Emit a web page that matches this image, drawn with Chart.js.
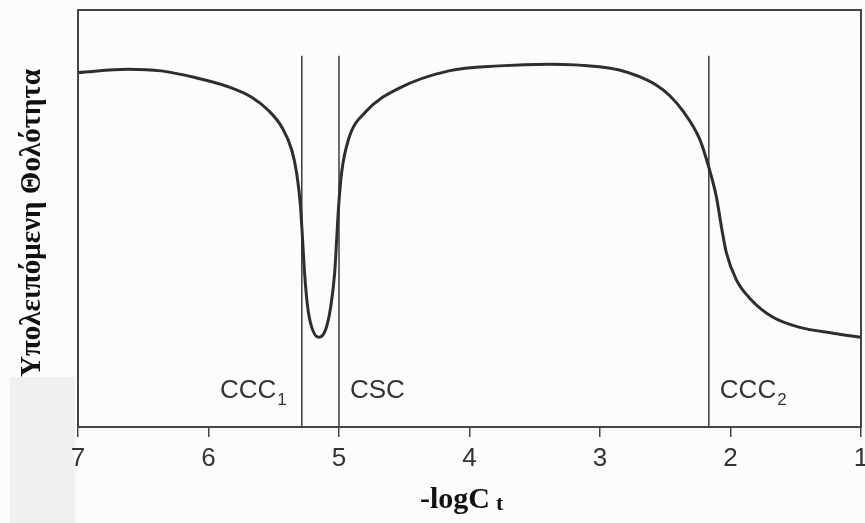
<!DOCTYPE html>
<html>
<head>
<meta charset="utf-8">
<script src="https://cdn.jsdelivr.net/npm/chart.js@4"></script>
<style>
html,body{margin:0;padding:0;background:#fcfcfc;}
#wrap{width:865px;height:523px;position:relative;}
</style>
</head>
<body>
<div id="wrap"><canvas id="c" width="865" height="523"></canvas></div>
<script>
// -logCt values (x) and residual turbidity (y, % of axis height)
const logC = [7.000, 6.616, 6.362, 6.103, 5.848, 5.669, 5.540, 5.438, 5.361, 5.323, 5.295, 5.279, 5.264, 5.241, 5.210, 5.156, 5.102, 5.064, 5.033, 5.018, 5.003, 4.980, 4.926, 4.795, 4.542, 4.158, 3.773, 3.389, 3.005, 2.852, 2.698, 2.570, 2.467, 2.365, 2.237, 2.173, 2.109, 2.070, 2.032, 1.955, 1.853, 1.674, 1.469, 1.213, 1.000];
const turbidity = [85.0, 85.8, 85.4, 83.8, 81.6, 79.1, 75.9, 71.9, 66.3, 60.6, 52.9, 44.9, 37.0, 29.0, 24.0, 21.5, 23.4, 28.7, 37.0, 44.9, 52.9, 61.0, 69.1, 75.6, 81.2, 85.4, 86.6, 87.0, 86.4, 85.6, 84.0, 82.0, 79.5, 75.8, 69.1, 63.0, 55.3, 48.1, 41.8, 35.3, 30.9, 26.3, 23.9, 22.5, 21.5];
// Critical concentrations (vertical markers)
const markerNames = ["CCC", "CSC", "CCC"];
const markerSubs = ["1", "", "2"];
const markerX = [5.285, 5.0, 2.166];
const markerTop = 89;
const xTicks = [7, 6, 5, 4, 3, 2, 1];
const yTitle = "Υπολειπόμενη Θολότητα";
const xTitle = "-logC";
const xTitleSub = "t";

const curve = logC.map((x, i) => ({x: x, y: turbidity[i]}));
const markerSets = markerX.map(x => ({
  data: [{x: x, y: 0}, {x: x, y: markerTop}],
  borderColor: '#3a3a3a', borderWidth: 1.5, pointRadius: 0, tension: 0
}));

const decor = {
  id: 'decor',
  beforeDraw(chart) {
    const ctx = chart.ctx;
    ctx.save();
    ctx.fillStyle = '#fcfcfc';
    ctx.fillRect(0, 0, chart.width, chart.height);
    ctx.fillStyle = '#f0f0f0';
    ctx.fillRect(10, 377, 65, 146);
    ctx.restore();
  },
  afterDraw(chart) {
    const ctx = chart.ctx;
    const a = chart.chartArea;
    const xs = chart.scales.x, ys = chart.scales.y;
    ctx.save();
    ctx.strokeStyle = '#444';
    ctx.lineWidth = 2;
    ctx.strokeRect(a.left, a.top, a.right - a.left, a.bottom - a.top);
    // marker labels
    ctx.fillStyle = '#333';
    ctx.textBaseline = 'alphabetic';
    const baseY = ys.getPixelForValue(7);
    markerX.forEach((v, i) => {
      const px = xs.getPixelForValue(v);
      ctx.font = '26px "Liberation Sans", Arial, sans-serif';
      const mainW = ctx.measureText(markerNames[i]).width;
      ctx.font = '17px "Liberation Sans", Arial, sans-serif';
      const subW = markerSubs[i] ? ctx.measureText(markerSubs[i]).width + 1 : 0;
      let startX = (i === 0) ? px - 15 - mainW - subW : px + 11;
      ctx.font = '26px "Liberation Sans", Arial, sans-serif';
      ctx.textAlign = 'left';
      ctx.fillText(markerNames[i], startX, baseY);
      if (markerSubs[i]) {
        ctx.font = '17px "Liberation Sans", Arial, sans-serif';
        ctx.fillText(markerSubs[i], startX + mainW + 1, baseY + 7);
      }
    });
    // y title
    ctx.fillStyle = '#111';
    ctx.font = 'bold 29px "Liberation Serif", "Times New Roman", serif';
    ctx.textAlign = 'center';
    ctx.translate(40, 223);
    ctx.rotate(-Math.PI / 2);
    ctx.fillText(yTitle, 0, 0);
    ctx.restore();
    // x title
    ctx.save();
    ctx.fillStyle = '#111';
    ctx.textBaseline = 'alphabetic';
    ctx.font = 'bold 30px "Liberation Serif", "Times New Roman", serif';
    const w1 = ctx.measureText(xTitle).width;
    const sx = 420;
    ctx.textAlign = 'left';
    ctx.fillText(xTitle, sx, 508);
    ctx.font = 'bold 22px "Liberation Serif", "Times New Roman", serif';
    ctx.fillText(xTitleSub, sx + w1 + 6, 510);
    ctx.restore();
  }
};

new Chart(document.getElementById('c'), {
  type: 'line',
  data: {
    datasets: [{
      data: curve,
      borderColor: '#2e2e2e', borderWidth: 3, pointRadius: 0,
      cubicInterpolationMode: 'monotone', fill: false
    }].concat(markerSets)
  },
  options: {
    responsive: false,
    animation: false,
    layout: {padding: {left: 78, right: 4, top: 10, bottom: 0}},
    plugins: {legend: {display: false}, tooltip: {enabled: false}},
    scales: {
      x: {
        type: 'linear', reverse: true, min: 1, max: 7,
        afterBuildTicks: s => { s.ticks = xTicks.map(v => ({value: v})); },
        afterFit: s => { s.height = 96; s.paddingLeft = 0; s.paddingRight = 0; },
        ticks: {color: '#333', font: {family: '"Liberation Sans", Arial, sans-serif', size: 26}, padding: 6, maxRotation: 0, autoSkip: false, callback: v => String(v)},
        grid: {drawOnChartArea: false, drawTicks: true, tickLength: 10, color: '#444', lineWidth: 1.5},
        border: {display: true, color: '#444', width: 2}
      },
      y: {display: false, min: 0, max: 100}
    }
  },
  plugins: [decor]
});
</script>
</body>
</html>
